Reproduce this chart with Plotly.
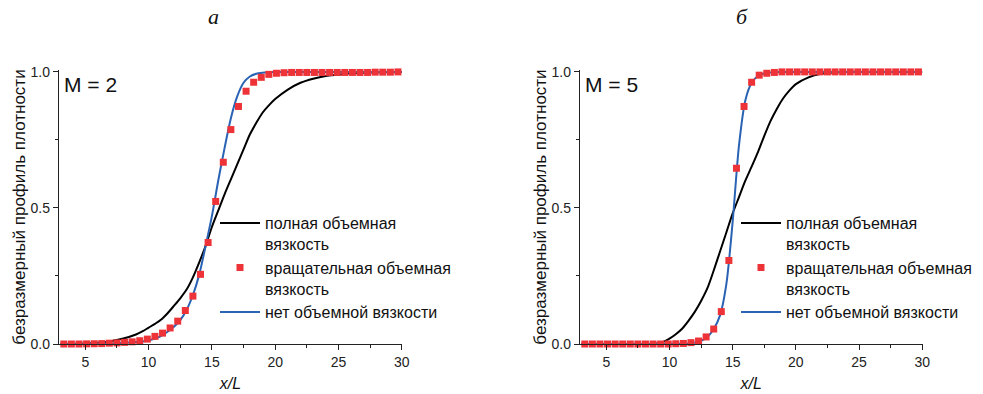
import plotly.graph_objects as go

# ---------------- data ----------------
# x positions of the solid curves
x_line = [3, 4, 5, 6, 7, 8, 9, 9.5, 10, 10.5, 11, 11.5, 12, 12.5, 13, 13.5, 14, 14.5,
          15, 15.5, 16, 16.5, 17, 17.5, 18, 18.5, 19, 19.5, 20, 21, 22, 23, 24, 25,
          26, 27, 28, 29, 30]

# M = 2
m2_full = [0.0, 0.001, 0.002, 0.005, 0.01, 0.02, 0.035, 0.046, 0.06, 0.074, 0.09, 0.113,
           0.14, 0.168, 0.20, 0.245, 0.30, 0.36, 0.43, 0.49, 0.55, 0.605, 0.66, 0.715,
           0.77, 0.812, 0.85, 0.877, 0.90, 0.935, 0.96, 0.975, 0.985, 0.99, 0.995,
           0.997, 0.998, 0.999, 1.0]
m2_none = [0.0, 0.0, 0.0005, 0.001, 0.002, 0.004, 0.007, 0.009, 0.013, 0.02, 0.03, 0.045,
           0.063, 0.088, 0.125, 0.18, 0.255, 0.36, 0.47, 0.60, 0.72, 0.83, 0.91, 0.96,
           0.983, 0.993, 0.997, 0.999, 1.0, 1.0, 1.0, 1.0, 1.0, 1.0, 1.0, 1.0, 1.0, 1.0, 1.0]

# M = 5
m5_full = [0.0, 0.0, 0.0, 0.0, 0.0, 0.0, 0.002, 0.008, 0.02, 0.036, 0.056, 0.085, 0.118,
           0.158, 0.205, 0.27, 0.34, 0.41, 0.48, 0.54, 0.60, 0.652, 0.705, 0.765, 0.82,
           0.865, 0.903, 0.932, 0.955, 0.98, 0.993, 0.998, 1.0, 1.0, 1.0, 1.0, 1.0, 1.0, 1.0]
m5_none = [0.0, 0.0, 0.0, 0.0, 0.0, 0.0, 0.0, 0.0, 0.0005, 0.001, 0.001, 0.002, 0.005,
           0.012, 0.026, 0.055, 0.105, 0.22, 0.45, 0.73, 0.895, 0.96, 0.985, 0.994,
           0.998, 0.999, 1.0, 1.0, 1.0, 1.0, 1.0, 1.0, 1.0, 1.0, 1.0, 1.0, 1.0, 1.0, 1.0]

# x positions of the square markers
x_pts = [3.3, 3.9, 4.5, 5.1, 5.7, 6.3, 6.9, 7.5, 8.1, 8.7, 9.3, 9.9, 10.5, 11.1, 11.7,
         12.3, 12.9, 13.5, 14.1, 14.7, 15.3, 15.9, 16.5, 17.1, 17.7, 18.3, 18.9, 19.5,
         20.1, 20.7, 21.3, 21.9, 22.5, 23.1, 23.7, 24.3, 24.9, 25.5, 26.1, 26.7, 27.3,
         27.9, 28.5, 29.1, 29.7]
m2_rot = [0.0, 0.0, 0.0, 0.0005, 0.001, 0.0015, 0.003, 0.004, 0.006, 0.008, 0.012, 0.018,
          0.028, 0.040, 0.059, 0.084, 0.123, 0.176, 0.256, 0.373, 0.524, 0.668, 0.788,
          0.873, 0.929, 0.962, 0.980, 0.991, 0.995, 0.997, 0.998, 0.998, 0.998, 0.998,
          0.998, 0.998, 0.998, 0.998, 0.998, 0.998, 0.998, 0.999, 0.999, 0.999, 1.0]
m5_rot = [0.0, 0.0, 0.0, 0.0, 0.0, 0.0, 0.0, 0.0, 0.0, 0.0, 0.0, 0.0, 0.001, 0.002, 0.005,
          0.011, 0.026, 0.055, 0.119, 0.307, 0.646, 0.873, 0.962, 0.988, 0.995, 0.998,
          1.0, 1.0, 1.0, 1.0, 1.0, 1.0, 1.0, 1.0, 1.0, 1.0, 1.0, 1.0, 1.0, 1.0, 1.0,
          1.0, 1.0, 1.0, 1.0]

names = ["полная объемная<br>вязкость", "вращательная объемная<br>вязкость",
         "нет объемной вязкости"]
panel_letters = ["а", "б"]
mach_labels = ["M = 2", "M = 5"]
x_title = "<i>x/L</i>"
y_title = "безразмерный профиль плотности"

BLACK = "#000000"
RED = "#ee3338"
BLUE = "#2a62b4"
FONT = "Liberation Sans, Arial, sans-serif"

fig = go.Figure()
panels = [(m2_full, m2_rot, m2_none, "x", "y", "legend"),
          (m5_full, m5_rot, m5_none, "x2", "y2", "legend2")]
for full, rot, none, xa, ya, lg in panels:
    fig.add_trace(go.Scatter(x=x_line, y=full, mode="lines", name=names[0], legendrank=1,
                             line=dict(color=BLACK, width=2, shape="spline", smoothing=0.8),
                             xaxis=xa, yaxis=ya, legend=lg, cliponaxis=False))
    fig.add_trace(go.Scatter(x=x_line, y=none, mode="lines", name=names[2], legendrank=3,
                             line=dict(color=BLUE, width=2, shape="spline", smoothing=0.8),
                             xaxis=xa, yaxis=ya, legend=lg, cliponaxis=False))
    fig.add_trace(go.Scatter(x=x_pts, y=rot, mode="markers", name=names[1], legendrank=2,
                             marker=dict(symbol="square", size=7, color=RED),
                             xaxis=xa, yaxis=ya, legend=lg, cliponaxis=False))

W, H = 983, 394
def px(v):
    return v / W
def py(v):
    return 1 - v / H

ydom = [py(344), py(70)]
axis_common = dict(showline=True, linecolor="#222", linewidth=1.3, ticks="outside",
                   ticklen=5, tickwidth=1.2, tickcolor="#222", showgrid=False,
                   zeroline=False, tickfont=dict(family=FONT, size=14, color="#222"))
xcommon = dict(axis_common, range=[2.92, 30.02], tickvals=[5, 10, 15, 20, 25, 30],
               minor=dict(ticks="outside", ticklen=3, tickwidth=1, tickcolor="#222",
                          tickvals=[7.5, 12.5, 17.5, 22.5, 27.5], showgrid=False),
               title=dict(text=x_title, font=dict(family=FONT, size=16, color="#111"),
                          standoff=8))
ycommon = dict(axis_common, range=[0, 1.007], tickvals=[0, 0.5, 1.0],
               ticktext=["0.0", "0.5", "1.0"],
               minor=dict(ticks="outside", ticklen=3, tickwidth=1, tickcolor="#222",
                          tickvals=[0.25, 0.75], showgrid=False),
               title=dict(text=y_title, font=dict(family=FONT, size=17, color="#111"),
                          standoff=0))

legend_common = dict(font=dict(family=FONT, size=16, color="#111"), bgcolor="rgba(0,0,0,0)",
                     xanchor="left", yanchor="top", valign="top", tracegroupgap=0,
                     itemwidth=40, traceorder="normal")

fig.update_layout(
    width=W, height=H, margin=dict(l=0, r=0, t=0, b=0, autoexpand=False),
    plot_bgcolor="white", paper_bgcolor="white", showlegend=True,
    xaxis=dict(xcommon, domain=[px(59), px(402)], anchor="y"),
    yaxis=dict(ycommon, domain=ydom, anchor="x"),
    xaxis2=dict(xcommon, domain=[px(580), px(922.5)], anchor="y2"),
    yaxis2=dict(ycommon, domain=ydom, anchor="x2"),
    legend=dict(legend_common, x=px(215), y=py(206)),
    legend2=dict(legend_common, x=px(736), y=py(206)),
)

for cx, lab in [(213, panel_letters[0]), (742, panel_letters[1])]:
    fig.add_annotation(x=px(cx), y=py(16), xref="paper", yref="paper", text=f"<i>{lab}</i>",
                       showarrow=False, xanchor="center", yanchor="middle",
                       font=dict(family="Liberation Serif, serif", size=22, color="#111"))

for xa, ya, lab in [("x", "y", mach_labels[0]), ("x2", "y2", mach_labels[1])]:
    fig.add_annotation(x=0.01, y=0.995, xref=f"{xa} domain", yref=f"{ya} domain", text=lab,
                       showarrow=False, xanchor="left", yanchor="top",
                       font=dict(family=FONT, size=21, color="#111"))

fig.write_html("out.html", config={"displayModeBar": False},
               post_script="document.body.style.margin='0px';")
